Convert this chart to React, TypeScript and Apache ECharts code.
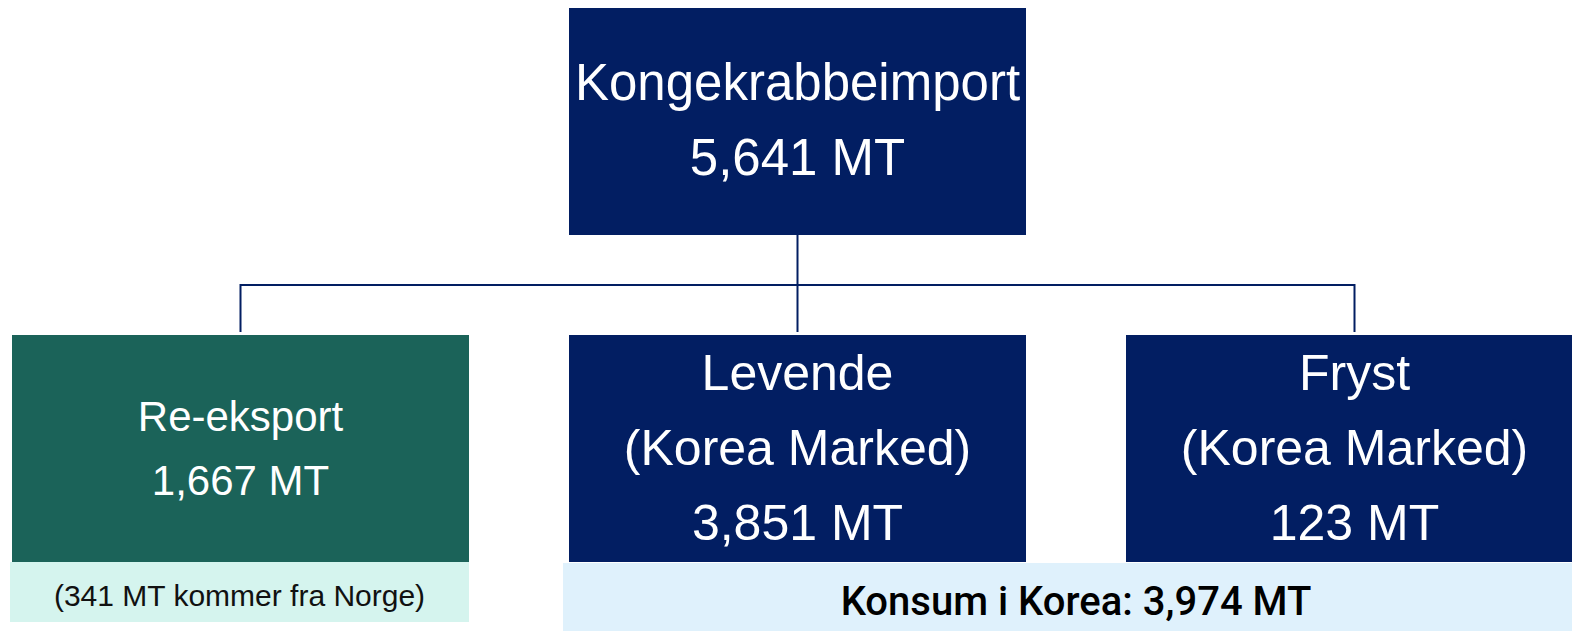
import React, { useEffect, useRef } from "react";
import * as echarts from "echarts";

const unit = "MT";
const rootName = "Kongekrabbeimport";
const rootValue = 5641;
const childNames = ["Re-eksport", "Levende", "Fryst"];
const childSubtitles = ["", "(Korea Marked)", "(Korea Marked)"];
const childValues = [1667, 3851, 123];
const norwayShare = 341;
const koreaConsumption = 3974;

const NAVY = "#021e62";
const TEAL = "#1b6359";
const MINT = "#d5f4ee";
const SKY = "#dff1fc";

const fmt = (v: number) => v.toLocaleString("en-US") + " " + unit;

export default function App() {
  const ref = useRef<HTMLDivElement>(null);
  useEffect(() => {
    if (!ref.current) return;
    const chart = echarts.init(ref.current, null, { renderer: "svg" });

    const boxW = 457;
    const boxH = 227;
    const rootX = 569;
    const rootY = 8;
    const childY = 335;
    const childXs = [12, 569, 1126];
    const lineY = 285;
    const font = "'Liberation Sans', Arial, sans-serif";

    const elements: any[] = [];

    // root box
    elements.push({
      type: "rect",
      shape: { x: rootX, y: rootY, width: boxW, height: boxH },
      style: { fill: NAVY },
    });
    elements.push({
      type: "text",
      x: rootX + boxW / 2,
      y: rootY + boxH / 2 - 2,
      style: {
        text: rootName + "\n" + fmt(rootValue),
        fill: "#ffffff",
        font: `51px ${font}`,
        lineHeight: 75,
        align: "center",
        verticalAlign: "middle",
      },
    });

    // connectors
    const rootCx = rootX + boxW / 2;
    const childCx = childXs.map((x) => x + boxW / 2);
    const lineStyle = { stroke: NAVY, lineWidth: 2, fill: null };
    elements.push({
      type: "line",
      shape: { x1: rootCx, y1: rootY + boxH, x2: rootCx, y2: childY - 3 },
      style: lineStyle,
    });
    elements.push({
      type: "polyline",
      shape: {
        points: [
          [childCx[0], childY - 3],
          [childCx[0], lineY],
          [childCx[2], lineY],
          [childCx[2], childY - 3],
        ],
      },
      style: lineStyle,
    });

    // child boxes
    childNames.forEach((name, i) => {
      const x = childXs[i];
      const isExport = i === 0;
      elements.push({
        type: "rect",
        shape: { x, y: childY, width: boxW, height: boxH },
        style: { fill: isExport ? TEAL : NAVY },
      });
      const lines = [name];
      if (childSubtitles[i]) lines.push(childSubtitles[i]);
      lines.push(fmt(childValues[i]));
      elements.push({
        type: "text",
        x: x + boxW / 2,
        y: childY + boxH / 2 + (isExport ? 0 : -1),
        style: {
          text: lines.join("\n"),
          fill: "#ffffff",
          font: isExport ? `42px ${font}` : `50px ${font}`,
          lineHeight: isExport ? 64 : 75,
          align: "center",
          verticalAlign: "middle",
        },
      });
    });

    // note under export box
    elements.push({
      type: "rect",
      shape: { x: 10, y: childY + boxH, width: boxW + 2, height: 60 },
      style: { fill: MINT },
    });
    elements.push({
      type: "text",
      x: 10 + (boxW + 2) / 2,
      y: childY + boxH + 33,
      style: {
        text: `(${norwayShare} ${unit} kommer fra Norge)`,
        fill: "#111111",
        font: `30px ${font}`,
        align: "center",
        verticalAlign: "middle",
      },
    });

    // consumption bar
    elements.push({
      type: "rect",
      shape: { x: 563, y: childY + boxH + 1, width: 1026, height: 70 },
      style: { fill: SKY },
    });
    elements.push({
      type: "text",
      x: 1076,
      y: childY + boxH + 39,
      style: {
        text: `Konsum i Korea: ${fmt(koreaConsumption)}`,
        fill: "#000000",
        font: `500 40px Roboto, ${font}`,
        align: "center",
        verticalAlign: "middle",
      },
    });

    chart.setOption({
      animation: false,
      backgroundColor: "#ffffff",
      graphic: { elements },
    });
    return () => chart.dispose();
  }, []);

  return (
    <div
      ref={ref}
      style={{ position: "fixed", left: 0, top: 0, width: 1572, height: 631 }}
    />
  );
}
